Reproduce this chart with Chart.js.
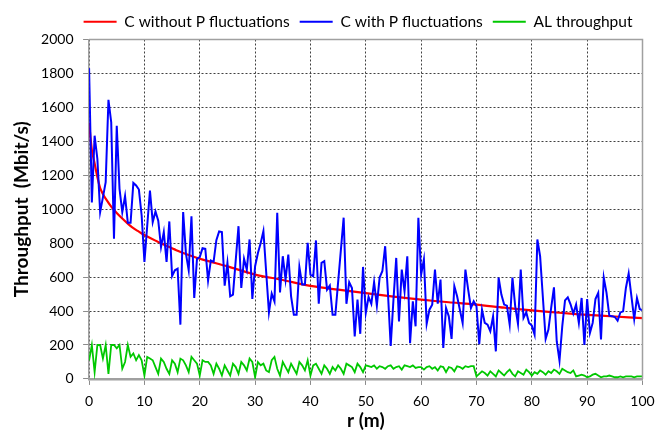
<!DOCTYPE html>
<html>
<head>
<meta charset="utf-8">
<script src="https://cdn.jsdelivr.net/npm/chart.js@4.4.1/dist/chart.umd.min.js"></script>
<style>
  html, body { margin: 0; padding: 0; background: #fff; }
  #wrap { width: 655px; height: 439px; }
</style>
</head>
<body>
<div id="wrap"><canvas id="c" width="655" height="439"></canvas></div>
<script>
// Sample spacing of the measured series (m)
const rStep = 0.5;

// C without P fluctuations (smooth curve), read at these distances
const redR = [0,0.5,1,1.5,2,2.5,3,4,5,6,7,8,9,10,12,14,16,18,20,22,25,30,35,40,45,50,55,60,65,70,75,80,85,90,95,100];
const redV = [1510,1350,1270,1190,1125,1090,1062,1015,978,945,915,888,868,848,815,785,755,730,708,690,663,615,583,548,526,506,485,467,452,438,420,404,390,378,368,358];

// C with P fluctuations, every 0.5 m from 0 to 100
const blueV = [
  1830,1040,1433,1296,983,1070,1160,1645,1512,826,1492,1120,983,1077,920,920,1155,1140,1116,963,690,
  900,1110,924,987,932,777,865,690,928,606,640,650,320,983,738,640,959,477,708,718,
  771,767,580,698,690,818,869,865,550,684,487,497,700,900,536,708,644,822,471,664,
  740,800,871,630,392,503,457,979,510,723,585,733,487,378,378,660,556,556,802,615,
  605,816,443,684,694,526,550,378,378,570,760,950,443,570,536,250,467,266,660,389,
  483,443,570,432,597,636,782,507,195,467,713,339,644,516,723,211,457,310,950,615,
  704,325,408,438,644,443,585,182,418,369,236,546,487,408,330,644,526,418,457,428,
  205,408,330,320,281,369,162,597,497,438,432,320,597,428,325,644,359,392,330,314,
  261,822,723,480,236,291,420,540,222,107,310,463,481,440,385,438,330,477,201,471,
  271,330,471,507,232,597,507,373,370,365,343,392,398,536,621,487,353,477,412,404
];

// AL throughput, every 0.5 m from 0 to 100
const greenV = [
  110,200,40,200,200,120,200,30,200,200,180,200,60,100,200,130,150,110,140,110,20,
  130,120,110,70,30,120,100,60,30,110,90,40,120,110,80,40,130,110,90,20,
  110,100,100,80,30,90,60,20,80,50,20,90,70,30,100,80,50,120,100,10,
  100,80,90,50,40,110,130,60,20,100,70,40,90,60,30,100,80,50,110,20,
  80,90,60,30,80,60,30,70,50,80,60,30,90,80,70,40,90,70,40,80,
  75,70,80,60,75,70,60,75,80,60,70,75,55,80,75,70,80,65,70,70,
  55,70,75,60,70,50,75,70,40,70,65,45,75,70,60,75,70,75,75,15,
  30,45,35,20,45,30,15,50,35,20,40,55,30,15,45,35,25,55,40,20,
  40,30,50,40,25,45,35,55,45,30,60,50,40,35,50,15,20,25,20,10,
  15,25,30,20,10,15,15,20,15,10,10,15,10,15,15,15,10,15,15,15
];

const seriesNames = ['C without P fluctuations', 'C with P fluctuations', 'AL throughput'];
const xTitle = 'r (m)';
const yTitle = 'Throughput  (Mbit/s)';

const toPts = (xs, ys) => ys.map((v, i) => ({x: xs[i], y: v}));
const gridR = blueV.map((_, i) => i * rStep);

const frame = {
  id: 'frame',
  afterDatasetsDraw(chart) {
    const {ctx, chartArea: a} = chart;
    ctx.save();
    ctx.strokeStyle = '#a0a0a0';
    ctx.lineWidth = 1.5;
    ctx.beginPath();
    ctx.moveTo(a.left, a.top); ctx.lineTo(a.right, a.top); ctx.lineTo(a.right, a.bottom);
    ctx.stroke();
    ctx.restore();
  }
};

const FONT = 'Lato, "Liberation Sans", sans-serif';

new Chart(document.getElementById('c'), {
  type: 'line',
  data: {
    datasets: [
      { label: seriesNames[0], data: toPts(redR, redV), borderColor: '#ff0000', backgroundColor: '#ff0000',
        borderWidth: 2.2, pointRadius: 0, pointStyle: 'line', tension: 0.3, order: 3 },
      { label: seriesNames[1], data: toPts(gridR, blueV), borderColor: '#0000ff', backgroundColor: '#0000ff',
        borderWidth: 2, pointRadius: 0, pointStyle: 'line', tension: 0, order: 2 },
      { label: seriesNames[2], data: toPts(gridR, greenV), borderColor: '#00c800', backgroundColor: '#00c800',
        borderWidth: 1.8, pointRadius: 0, pointStyle: 'line', tension: 0, order: 1 }
    ]
  },
  options: {
    responsive: false,
    animation: false,
    layout: { padding: { left: 12.6, right: 12.5, top: 4, bottom: 14.8 } },
    plugins: {
      legend: {
        position: 'top', align: 'end',
        labels: {
          usePointStyle: true, pointStyleWidth: 33, boxHeight: 14,
          color: '#000', font: { family: FONT, size: 15.5 }, padding: 10,
          sort: (a, b) => a.datasetIndex - b.datasetIndex
        }
      },
      tooltip: { enabled: false }
    },
    scales: {
      x: {
        type: 'linear', min: 0, max: 100,
        afterFit: (s) => { s.paddingRight = 0; s.paddingLeft = 0; },
        ticks: { stepSize: 10, color: '#000', font: { family: FONT, size: 14 }, padding: 8, maxRotation: 0 },
        grid: { color: '#404040', lineWidth: 1, tickLength: 6, tickColor: '#8c8c8c', tickBorderDash: [] },
        border: { display: true, color: '#a0a0a0', width: 2.5, dash: [2, 2] },
        title: { display: true, text: xTitle, color: '#000',
                 font: { family: FONT, size: 19, weight: 'bold', lineHeight: 0.34 }, padding: { top: 0, bottom: 0 } }
      },
      y: {
        min: 0, max: 2000,
        ticks: { stepSize: 200, color: '#000', font: { family: FONT, size: 14 }, padding: 9.5,
                 callback: (v) => String(v) },
        grid: { color: '#404040', lineWidth: 1, tickLength: 6, tickColor: '#8c8c8c', tickBorderDash: [] },
        border: { display: true, color: '#a0a0a0', width: 1.5, dash: [2, 2] },
        title: { display: true, text: yTitle, color: '#000',
                 font: { family: FONT, size: 19, weight: 'bold', lineHeight: 1.0 }, padding: { top: 0, bottom: 0 } }
      }
    }
  },
  plugins: [frame]
});
</script>
</body>
</html>
